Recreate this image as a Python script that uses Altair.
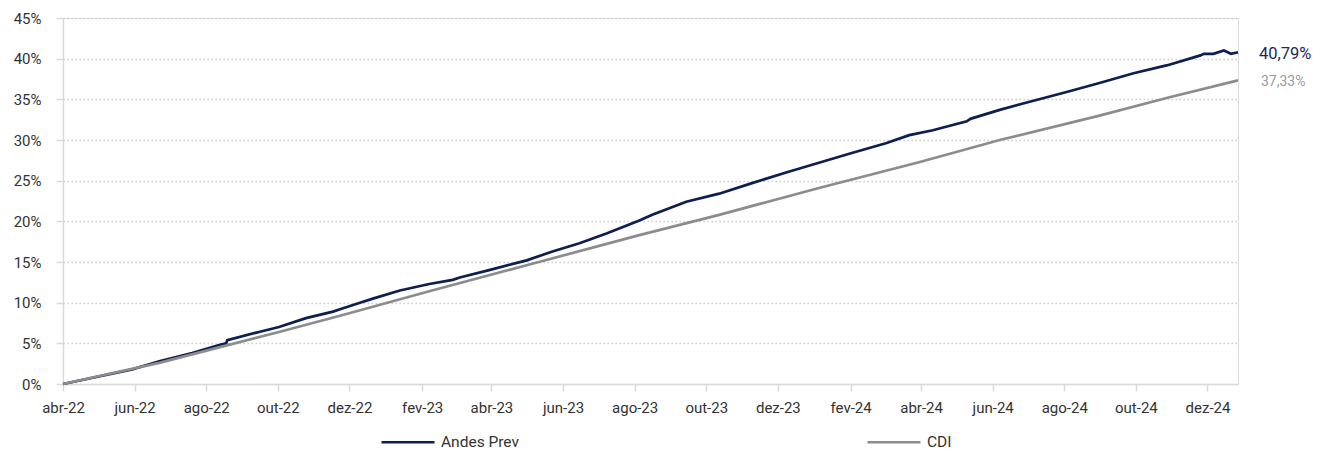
import altair as alt
import pandas as pd

# ---------------- data ----------------
andes_dates = [
    "2022-04-01", "2022-05-30", "2022-06-22", "2022-07-20", "2022-08-12", "2022-08-18",
    "2022-08-19", "2022-09-15", "2022-10-02", "2022-10-25", "2022-11-17", "2022-11-23",
    "2022-12-10", "2022-12-21", "2023-01-13", "2023-02-07", "2023-02-27", "2023-03-05",
    "2023-03-30", "2023-05-01", "2023-05-23", "2023-06-15", "2023-07-08", "2023-08-05",
    "2023-08-16", "2023-09-14", "2023-10-12", "2023-11-09", "2023-12-08", "2024-01-05",
    "2024-02-02", "2024-03-02", "2024-03-22", "2024-04-11", "2024-05-10", "2024-05-13",
    "2024-06-07", "2024-07-05", "2024-08-03", "2024-08-31", "2024-09-29", "2024-10-28",
    "2024-11-25", "2024-11-28", "2024-12-06", "2024-12-15", "2024-12-21", "2024-12-27",
]
andes_values = [
    0.0, 1.8, 2.8, 3.8, 4.8, 5.0,
    5.4, 6.4, 7.0, 8.1, 8.9, 9.2,
    10.0, 10.5, 11.5, 12.3, 12.8, 13.1,
    14.0, 15.2, 16.3, 17.3, 18.5, 20.1,
    20.8, 22.4, 23.4, 24.7, 26.0, 27.2,
    28.4, 29.6, 30.6, 31.2, 32.3, 32.6,
    33.7, 34.8, 35.9, 37.0, 38.2, 39.2,
    40.4, 40.6, 40.6, 41.0, 40.6, 40.79,
]

cdi_dates = [
    "2022-04-01", "2022-06-22", "2022-08-12", "2022-10-02", "2022-11-23", "2023-02-07",
    "2023-05-01", "2023-08-05", "2023-10-12", "2024-01-05", "2024-03-31", "2024-06-07",
    "2024-08-31", "2024-10-28", "2024-12-27",
]
cdi_values = [
    0.0, 2.6, 4.5, 6.4, 8.4, 11.4,
    14.6, 18.3, 20.8, 24.1, 27.3, 30.0,
    33.0, 35.2, 37.33,
]

series_names = ["Andes Prev", "CDI"]
series_colors = ["#0c1f4f", "#8c8c8c"]
month_labels = ["jan", "fev", "mar", "abr", "mai", "jun", "jul", "ago", "set", "out", "nov", "dez"]
x_tick_months = [
    (2022, 4), (2022, 6), (2022, 8), (2022, 10), (2022, 12),
    (2023, 2), (2023, 4), (2023, 6), (2023, 8), (2023, 10), (2023, 12),
    (2024, 2), (2024, 4), (2024, 6), (2024, 8), (2024, 10), (2024, 12),
]
y_ticks = [0, 5, 10, 15, 20, 25, 30, 35, 40, 45]

# ---------------- build table ----------------
df = pd.concat([
    pd.DataFrame({"date": andes_dates, "value": andes_values, "series": series_names[0]}),
    pd.DataFrame({"date": cdi_dates, "value": cdi_values, "series": series_names[1]}),
], ignore_index=True)

end = df.groupby("series", as_index=False).last()
end["label"] = end["value"].map(lambda v: f"{v:.2f}".replace(".", ",") + "%")

FONT = "Roboto"
x_values = [alt.DateTime(year=y, month=m, date=1, utc=True) for (y, m) in x_tick_months]
month_js = "[" + ",".join(f"'{m}'" for m in month_labels) + "]"

x_enc = alt.X(
    "date:T",
    scale=alt.Scale(
        type="utc",
        domain=[alt.DateTime(year=2022, month=4, date=1, utc=True),
                alt.DateTime(year=2024, month=12, date=27, utc=True)],
        nice=False,
    ),
    axis=alt.Axis(
        title=None, grid=False, values=x_values,
        labelExpr=month_js + "[utcmonth(datum.value)] + '-' + utcFormat(datum.value, '%y')",
        domainColor="#d9d9d9", domainWidth=1.5, tickColor="#d9d9d9", tickWidth=1.5,
        tickSize=7, labelPadding=9, labelFontSize=15, labelColor="#333333",
        labelFlush=False, labelOverlap=False, labelFont=FONT,
    ),
)
y_enc = alt.Y(
    "value:Q",
    scale=alt.Scale(domain=[0, 45], nice=False),
    axis=alt.Axis(
        title=None, values=y_ticks, labelExpr="datum.value + '%'",
        grid=True, gridDash=[1.5, 2.5], gridColor="#cccccc", gridWidth=1.3,
        domainColor="#d9d9d9", domainWidth=1.5, tickColor="#d9d9d9", tickWidth=1.5,
        tickSize=7, labelPadding=15, labelFontSize=15, labelColor="#333333", labelFont=FONT,
    ),
)

lines = alt.Chart(df).mark_line(strokeWidth=2.7).encode(
    x=x_enc,
    y=y_enc,
    color=alt.Color(
        "series:N",
        scale=alt.Scale(domain=series_names, range=series_colors),
        legend=alt.Legend(
            title=None, orient="none", legendX=317, legendY=396, direction="horizontal",
            symbolType="stroke", symbolSize=2809, symbolStrokeWidth=2.5,
            labelFontSize=15.5, labelColor="#333333", labelFont=FONT,
            columnPadding=343, labelOffset=5,
        ),
    ),
)

t_andes = alt.Chart(end[end["series"] == series_names[0]]).mark_text(
    align="left", baseline="middle", dx=21, dy=2, fontSize=16.5, color="#1b2a5a", font=FONT
).encode(x="date:T", y="value:Q", text="label:N")

t_cdi = alt.Chart(end[end["series"] == series_names[1]]).mark_text(
    align="left", baseline="middle", dx=23, dy=2, fontSize=14, color="#9a9a9a", font=FONT
).encode(x="date:T", y="value:Q", text="label:N")

chart = alt.layer(lines, t_andes, t_cdi).properties(
    width=1175, height=366,
    padding={"left": 55, "top": 10, "right": 75, "bottom": 67},
    autosize=alt.AutoSizeParams(type="none"),
).configure_view(strokeWidth=0).configure(font=FONT)

chart.save("out.html", embed_options={"renderer": "svg", "actions": False})
